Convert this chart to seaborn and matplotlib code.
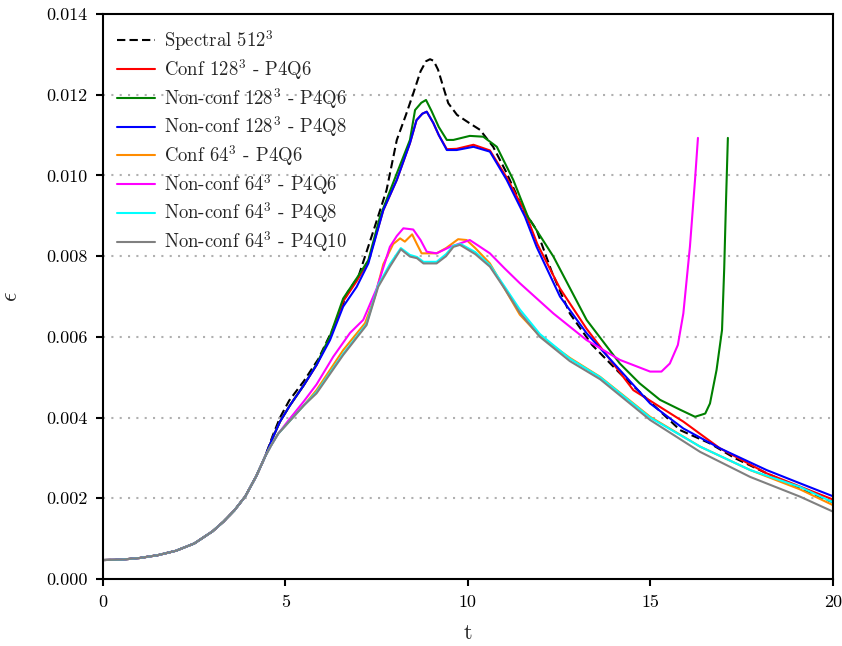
import numpy as np
import pandas as pd
import matplotlib
matplotlib.use("Agg")
import matplotlib.pyplot as plt
import seaborn as sns

# ---------------- data ----------------
# common initial stage (all simulations coincide)
t_early = [0.0, 0.5, 1.0, 1.5, 2.0, 2.5, 3.0, 3.3, 3.6, 3.9, 4.2, 4.44]
eps_early = [0.00047, 0.00048, 0.00052, 0.00059, 0.00070, 0.00088, 0.00118,
             0.00142, 0.00170, 0.00205, 0.00255, 0.00303]

t_spec = [4.65, 4.85, 5.1, 5.5, 5.9, 6.3, 6.7, 7.0, 7.4, 7.77, 8.05, 8.3, 8.5,
          8.7, 8.85, 8.96, 9.06, 9.18, 9.32, 9.46, 9.7, 10.05, 10.33, 10.69,
          11.06, 11.52, 11.88, 12.3, 12.79, 13.4, 14.16, 14.99, 15.81, 16.63,
          17.3, 18.18, 19.1, 20.0]
eps_spec = [0.00355, 0.0040, 0.00442, 0.0049, 0.00545, 0.0062, 0.0071, 0.0075,
            0.0086, 0.00964, 0.01088, 0.0115, 0.01203, 0.01258, 0.01283, 0.01288,
            0.01284, 0.01262, 0.0122, 0.01179, 0.0115, 0.01129, 0.01113, 0.01071,
            0.01006, 0.00914, 0.00865, 0.0076, 0.00658, 0.0058, 0.0051, 0.00439,
            0.00369, 0.00336, 0.0030, 0.00262, 0.00225, 0.0019]

t_c128_q6 = [4.65, 4.85, 5.12, 5.5, 5.85, 6.22, 6.58, 6.95, 7.27, 7.68, 8.05,
             8.41, 8.59, 8.75, 8.87, 9.05, 9.2, 9.42, 9.69, 10.15, 10.6, 11.06,
             11.56, 11.9, 12.52, 13.25, 14.53, 15.9, 16.9, 18.18, 19.1, 20.0]
eps_c128_q6 = [0.0035, 0.0039, 0.0043, 0.0048, 0.0053, 0.00598, 0.00688,
               0.00738, 0.00787, 0.00914, 0.00989, 0.0108, 0.01137, 0.01153,
               0.01158, 0.0113, 0.0110, 0.01065, 0.01066, 0.01076, 0.01062,
               0.00995, 0.0091, 0.0083, 0.0072, 0.0062, 0.00468, 0.0039, 0.00324,
               0.00262, 0.00229, 0.00197]

t_nc128_q6 = [4.65, 4.85, 5.12, 5.5, 5.85, 6.22, 6.58, 6.95, 7.27, 7.59, 8.05,
              8.41, 8.55, 8.72, 8.85, 9.0, 9.2, 9.42, 9.6, 10.05, 10.42, 10.79,
              11.24, 11.64, 12.34, 13.25, 14.16, 14.7, 15.26, 15.8, 16.22, 16.5,
              16.63, 16.81, 16.96, 17.02, 17.07, 17.12]
eps_nc128_q6 = [0.0035, 0.0039, 0.0043, 0.0048, 0.00532, 0.00602, 0.00695,
                0.00745, 0.0079, 0.00898, 0.01005, 0.01088, 0.01162, 0.0118,
                0.01187, 0.0116, 0.0112, 0.01088, 0.01088, 0.01098, 0.01096,
                0.01071, 0.00989, 0.00898, 0.00799, 0.00642, 0.00534, 0.00485,
                0.00444, 0.0042, 0.00402, 0.0041, 0.00435, 0.00518, 0.00617,
                0.0077, 0.00939, 0.01093]

t_nc128_q8 = [4.65, 4.85, 5.12, 5.5, 5.85, 6.22, 6.58, 6.95, 7.27, 7.68, 8.05,
              8.41, 8.59, 8.75, 8.87, 9.05, 9.2, 9.42, 9.69, 10.15, 10.6, 11.06,
              11.56, 11.88, 12.52, 13.25, 14.16, 14.99, 15.9, 16.9, 18.18, 19.1,
              20.0]
eps_nc128_q8 = [0.0035, 0.0039, 0.0043, 0.0048, 0.0053, 0.00592, 0.00675,
                0.00724, 0.00782, 0.00914, 0.00989, 0.0108, 0.01137, 0.01153,
                0.01158, 0.0113, 0.0110, 0.01063, 0.01063, 0.01071, 0.01059,
                0.00989, 0.00898, 0.00823, 0.0070, 0.00609, 0.00518, 0.00435,
                0.00373, 0.00324, 0.0027, 0.00237, 0.00205]

t_c64_q6 = [4.6, 4.8, 5.1, 5.5, 5.85, 6.58, 7.18, 7.45, 7.68, 7.95, 8.14, 8.27,
            8.47, 8.6, 8.73, 9.14, 9.4, 9.73, 9.96, 10.2, 10.6, 11.0, 11.42,
            11.97, 12.79, 13.62, 14.99, 16.36, 17.73, 19.1, 20.0]
eps_c64_q6 = [0.0033, 0.0036, 0.0039, 0.0043, 0.00468, 0.00567, 0.00634, 0.0070,
              0.0078, 0.0083, 0.00844, 0.00836, 0.00854, 0.0083, 0.00807,
              0.00807, 0.0082, 0.00842, 0.0084, 0.0082, 0.00782, 0.0072, 0.00655,
              0.00602, 0.00548, 0.00501, 0.00402, 0.00328, 0.0027, 0.00222,
              0.00183]

t_nc64_q6 = [4.6, 4.8, 5.1, 5.5, 5.85, 6.31, 6.77, 7.13, 7.5, 7.86, 8.05, 8.23,
             8.5, 8.7, 8.87, 9.14, 9.51, 10.05, 10.6, 11.0, 11.42, 12.34, 13.25,
             14.16, 14.99, 15.3, 15.53, 15.75, 15.9, 16.08, 16.22, 16.3]
eps_nc64_q6 = [0.0033, 0.0036, 0.00395, 0.0044, 0.00482, 0.00551, 0.0061,
               0.00642, 0.0072, 0.00823, 0.0085, 0.00869, 0.00866, 0.0084,
               0.00811, 0.00807, 0.00823, 0.0084, 0.00807, 0.0077, 0.00733,
               0.00658, 0.00592, 0.00543, 0.00514, 0.00514, 0.00534, 0.0058,
               0.00658, 0.00823, 0.00989, 0.01093]

t_nc64_q8 = [4.6, 4.8, 5.1, 5.5, 5.85, 6.58, 7.22, 7.54, 7.86, 8.16, 8.41, 8.6,
             8.78, 9.14, 9.4, 9.6, 9.8, 10.2, 10.6, 11.0, 11.42, 11.97, 12.79,
             13.62, 14.99, 16.36, 17.73, 19.1, 20.0]
eps_nc64_q8 = [0.0033, 0.0036, 0.0039, 0.0043, 0.00463, 0.00558, 0.00632,
               0.00728, 0.0078, 0.0082, 0.00803, 0.00798, 0.00786, 0.00786,
               0.00805, 0.00826, 0.0083, 0.0081, 0.00778, 0.00725, 0.00668,
               0.00607, 0.00546, 0.005, 0.004, 0.00328, 0.0027, 0.00228, 0.0019]

t_nc64_q10 = [4.6, 4.8, 5.1, 5.5, 5.85, 6.58, 7.22, 7.54, 7.86, 8.16, 8.41, 8.6,
              8.78, 9.14, 9.4, 9.6, 9.78, 10.2, 10.6, 11.0, 11.42, 11.97, 12.79,
              13.62, 14.99, 16.36, 17.73, 19.1, 20.0]
eps_nc64_q10 = [0.0033, 0.0036, 0.0039, 0.0043, 0.0046, 0.00555, 0.00629,
                0.00724, 0.00774, 0.00817, 0.00799, 0.00795, 0.00782, 0.00782,
                0.0080, 0.00823, 0.00828, 0.00805, 0.00774, 0.0072, 0.0066,
                0.006, 0.0054, 0.00495, 0.00394, 0.00315, 0.00253, 0.00204,
                0.00167]

labels = [r"Spectral $512^3$",
          r"Conf $128^3$ - P4Q6",
          r"Non-conf $128^3$ - P4Q6",
          r"Non-conf $128^3$ - P4Q8",
          r"Conf $64^3$ - P4Q6",
          r"Non-conf $64^3$ - P4Q6",
          r"Non-conf $64^3$ - P4Q8",
          r"Non-conf $64^3$ - P4Q10"]
colors = ["black", "red", "green", "blue", "darkorange", "magenta", "cyan", "gray"]

y_ticks = [0.000, 0.002, 0.004, 0.006, 0.008, 0.010, 0.012, 0.014]
x_ticks = [0, 5, 10, 15, 20]

series = [(t_spec, eps_spec), (t_c128_q6, eps_c128_q6), (t_nc128_q6, eps_nc128_q6),
          (t_nc128_q8, eps_nc128_q8), (t_c64_q6, eps_c64_q6), (t_nc64_q6, eps_nc64_q6),
          (t_nc64_q8, eps_nc64_q8), (t_nc64_q10, eps_nc64_q10)]

rows = []
for lab, (ts, es) in zip(labels, series):
    for tv, ev in zip(t_early + ts, eps_early + es):
        rows.append({"t": tv, "eps": ev, "case": lab})
df = pd.DataFrame(rows)

# ---------------- style ----------------
sns.set_style("ticks")
plt.rcParams.update({
    "font.family": "serif",
    "font.serif": ["cmr10", "DejaVu Serif"],
    "mathtext.fontset": "cm",
    "axes.formatter.use_mathtext": True,
    "axes.unicode_minus": False,
    "axes.linewidth": 1.5,
    "xtick.major.width": 1.5,
    "ytick.major.width": 1.5,
    "xtick.major.size": 5,
    "ytick.major.size": 5,
    "xtick.color": "black",
    "ytick.color": "black",
    "axes.edgecolor": "black",
    "lines.solid_joinstyle": "round",
})

fig = plt.figure(figsize=(8.42, 6.46), dpi=100)
ax = fig.add_axes([0.1223, 0.1037, 0.867, 0.8746])

for yv in y_ticks[1:-1]:
    ax.axhline(yv, color="#b0b0b0", linestyle=(0, (1, 3)), linewidth=1.5, zorder=0)

dash_map = {lab: "" for lab in labels}
dash_map[labels[0]] = (4, 2)
sns.lineplot(data=df, x="t", y="eps", hue="case", hue_order=labels,
             style="case", style_order=labels, dashes=dash_map,
             palette=dict(zip(labels, colors)), estimator=None, sort=False,
             linewidth=1.5, ax=ax)

ax.set_xlim(0, 20)
ax.set_ylim(0, 0.014)
ax.set_xticks(x_ticks)
ax.set_yticks(y_ticks)
ax.set_xticklabels([str(v) for v in x_ticks], fontsize=13)
ax.set_yticklabels([f"{v:.3f}" for v in y_ticks], fontsize=13)
ax.tick_params(axis="both", pad=6)
ax.set_xlabel("t", fontsize=16, labelpad=10)
ax.set_ylabel(r"$\epsilon$", fontsize=17, labelpad=17)

handles, labs = ax.get_legend_handles_labels()
leg = ax.legend(handles, labs, loc="upper left", frameon=False, fontsize=13.5,
                handlelength=2.0, handletextpad=0.5, labelspacing=0.2,
                borderaxespad=0.35)

fig.savefig("out.png", dpi=100)
